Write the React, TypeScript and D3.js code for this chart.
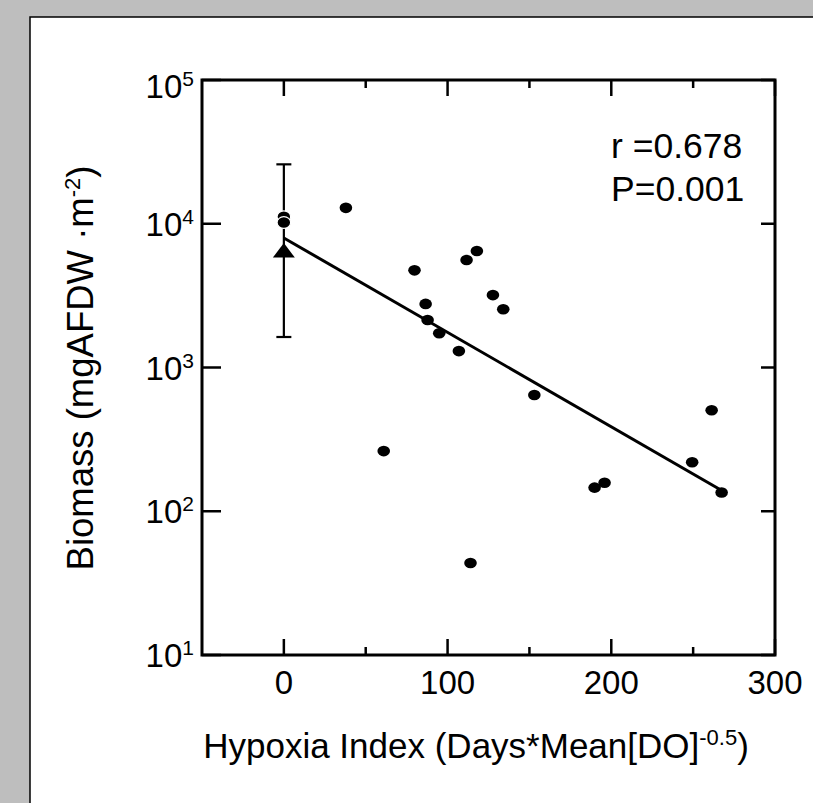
import React, { useEffect } from "react";
import * as d3 from "d3";

// ---- data ----
const hypoxiaIndex = [37.9, 61, 79.8, 86.6, 87.8, 94.9, 106.9, 111.6, 117.9, 114, 127.7, 134, 153, 189.8, 195.9, 249.4, 261.3, 267.4];
const biomass = [12900, 262, 4740, 2770, 2140, 1730, 1300, 5600, 6460, 43.6, 3190, 2540, 644, 146, 158, 219, 504, 135];
const refIndex = [0, 0];
const refBiomass = [11200, 10200];
const refMean = 6300;
const refLow = 1630;
const refHigh = 25900;
const fitIntercept = 3.901; // log10 biomass at index 0
const fitSlope = -0.006566;
const fitRange = [0, 268];
const xMajorTicks = [0, 100, 200, 300];
const xMinorTicks = [50, 150, 250];
const yTicks = [10, 100, 1000, 10000, 100000];
const yTickExp = ["1", "2", "3", "4", "5"];
const statLines = ["r =0.678", "P=0.001"];

const FONT = "'Liberation Sans', Arial, Helvetica, sans-serif";

export default function App() {
  useEffect(() => {
    document.documentElement.style.overflow = "hidden";
    document.body.style.overflow = "hidden";
    document.body.style.margin = "0";
  }, []);

  const W = 813, H = 803;
  const x = d3.scaleLinear().domain([-50, 300]).range([202, 775]);
  const y = d3.scaleLog().domain([10, 100000]).range([655, 80]);
  const [x0, x1] = x.range();
  const [yb, yt] = y.range();

  const fitLine = d3.line<number>()
    .x((d) => x(d))
    .y((d) => y(Math.pow(10, fitIntercept + fitSlope * d)));

  const tx = x(0);
  const ty = y(refMean);
  const tri = `M${tx},${ty - 9.5} L${tx + 11},${ty + 5} L${tx - 11},${ty + 5} Z`;

  return (
    <svg width={W} height={H} style={{ position: "fixed", left: 0, top: 0, display: "block" }}>
      <rect x={0} y={0} width={W} height={H} fill="#bebebe" />
      <rect x={30} y={17} width={W} height={H} fill="#ffffff" />
      <path d={`M30,${H} L30,17 L${W},17`} fill="none" stroke="#000" strokeWidth={1.5} />

      {/* error bar */}
      <line x1={tx} x2={tx} y1={y(refLow)} y2={y(refHigh)} stroke="#000" strokeWidth={2.2} />
      <line x1={tx - 7.5} x2={tx + 7.5} y1={y(refLow)} y2={y(refLow)} stroke="#000" strokeWidth={2.2} />
      <line x1={tx - 7.5} x2={tx + 7.5} y1={y(refHigh)} y2={y(refHigh)} stroke="#000" strokeWidth={2.2} />

      {/* fit line */}
      <path d={fitLine(fitRange) || ""} fill="none" stroke="#000" strokeWidth={3} />

      {/* points */}
      {hypoxiaIndex.map((v, i) => (
        <ellipse key={i} cx={x(v)} cy={y(biomass[i])} rx={6.3} ry={5.3} fill="#000" />
      ))}
      {refIndex.map((v, i) => (
        <ellipse key={"r" + i} cx={x(v)} cy={y(refBiomass[i])} rx={6.8} ry={5.8} fill="#000" stroke="#fff" strokeWidth={1.2} />
      ))}
      <path d={tri} fill="#000" />

      {/* frame */}
      <rect x={x0} y={yt} width={x1 - x0} height={yb - yt} fill="none" stroke="#000" strokeWidth={3} />

      {/* x ticks */}
      {xMajorTicks.map((t) => (
        <g key={"xm" + t}>
          <line x1={x(t)} x2={x(t)} y1={yb} y2={yb - 16} stroke="#000" strokeWidth={2.5} />
          <line x1={x(t)} x2={x(t)} y1={yt} y2={yt + 16} stroke="#000" strokeWidth={2.5} />
          <text x={x(t)} y={694} textAnchor="middle" fontFamily={FONT} fontSize={33} fill="#000">{t}</text>
        </g>
      ))}
      {xMinorTicks.map((t) => (
        <g key={"xn" + t}>
          <line x1={x(t)} x2={x(t)} y1={yb} y2={yb - 8} stroke="#000" strokeWidth={2.5} />
          <line x1={x(t)} x2={x(t)} y1={yt} y2={yt + 8} stroke="#000" strokeWidth={2.5} />
        </g>
      ))}

      {/* y ticks */}
      {yTicks.map((t, i) => (
        <g key={"y" + t}>
          <line x1={x0} x2={x0 + 19} y1={y(t)} y2={y(t)} stroke="#000" strokeWidth={2.5} />
          <line x1={x1} x2={x1 - 14} y1={y(t)} y2={y(t)} stroke="#000" strokeWidth={2.5} />
          <text x={194} y={y(t) + (i === yTicks.length - 1 ? 18 : 12)} textAnchor="end" fontFamily={FONT} fontSize={33} fill="#000">
            10<tspan fontSize={21} dy={-12}>{yTickExp[i]}</tspan>
          </text>
        </g>
      ))}

      {/* stats */}
      {statLines.map((s, i) => (
        <text key={s} x={611} y={158 + i * 43} fontFamily={FONT} fontSize={35.5} fill="#000">{s}</text>
      ))}

      {/* axis titles */}
      <text x={476} y={758} textAnchor="middle" fontFamily={FONT} fontSize={35} fill="#000">
        Hypoxia Index (Days*Mean[DO]<tspan fontSize={22} dy={-13}>-0.5</tspan><tspan dy={13}>)</tspan>
      </text>
      <text transform={`translate(93,368) rotate(-90)`} textAnchor="middle" fontFamily={FONT} fontSize={36.5} fill="#000">
        Biomass (mgAFDW ·m<tspan fontSize={22} dy={-13}>-2</tspan><tspan dy={13}>)</tspan>
      </text>
    </svg>
  );
}
